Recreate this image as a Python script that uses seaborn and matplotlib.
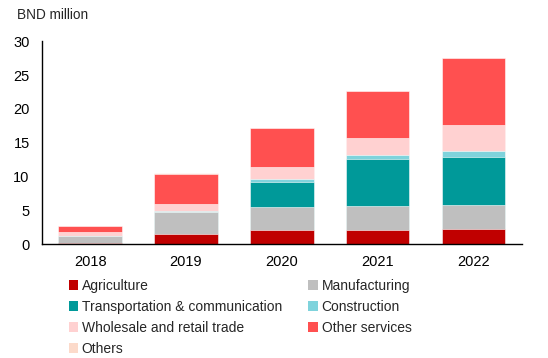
import numpy as np
import pandas as pd
import matplotlib
matplotlib.use("Agg")
import matplotlib.pyplot as plt
import seaborn as sns
from matplotlib.patches import Patch

# ===============================
# Data (BND million)
# ===============================
years = ["2018", "2019", "2020", "2021", "2022"]
agriculture = [0.10, 1.45, 2.05, 2.15, 2.30]
manufacturing = [1.12, 3.25, 3.45, 3.45, 3.55]
transport = [0.00, 0.05, 3.75, 6.95, 7.10]
construction = [0.02, 0.22, 0.45, 0.70, 0.88]
wholesale = [0.50, 1.03, 1.75, 2.50, 3.73]
other_services = [0.91, 4.43, 5.75, 6.94, 9.89]
others = [0.00, 0.02, 0.00, 0.00, 0.00]

sectors = ["Agriculture", "Manufacturing", "Transportation & communication",
           "Construction", "Wholesale and retail trade", "Other services", "Others"]
colors = ["#C00000", "#BFBFBF", "#009999", "#7FD3DC", "#FFD1D1", "#FF5050", "#FCDACA"]

df = pd.DataFrame({
    "Agriculture": agriculture,
    "Manufacturing": manufacturing,
    "Transportation & communication": transport,
    "Construction": construction,
    "Wholesale and retail trade": wholesale,
    "Other services": other_services,
    "Others": others,
}, index=years)
cum = df[sectors].cumsum(axis=1)

# ===============================
# Plot
# ===============================
sns.set_style("white")
plt.rcParams["font.family"] = ["Liberation Sans", "DejaVu Sans"]

fig = plt.figure(figsize=(5.48, 3.58), dpi=100)
ax = fig.add_axes([0.077, 0.318, 0.875, 0.567])

# stacked bars: draw cumulative totals from top layer down
for name, col in zip(sectors[::-1], colors[::-1]):
    sns.barplot(x=years, y=cum[name].values, color=col, width=0.66,
                edgecolor="white", linewidth=0.4, saturation=1, ax=ax)

ax.set_ylim(0, 30)
ax.set_xlim(-0.5, 4.5)
ax.set_yticks(range(0, 31, 5))
ax.tick_params(axis="both", labelsize=10.5, length=0, colors="black")
ax.tick_params(axis="y", pad=9)
ax.tick_params(axis="x", pad=8)
ax.set_xlabel("")
ax.set_ylabel("")
sns.despine(ax=ax)
for s in ["left", "bottom"]:
    ax.spines[s].set_color("black")
    ax.spines[s].set_linewidth(1.0)

fig.text(0.031, 0.957, "BND million", fontsize=9.8, va="center", ha="left")

# legend: 2 columns, row-wise order as in the reference
handles = {n: Patch(facecolor=c, edgecolor="none") for n, c in zip(sectors, colors)}
order = ["Agriculture", "Transportation & communication", "Wholesale and retail trade", "Others",
         "Manufacturing", "Construction", "Other services"]
fig.legend([handles[n] for n in order], order, loc="upper left",
           bbox_to_anchor=(0.125, 0.222), ncol=2, frameon=False, fontsize=10,
           handlelength=0.7, handleheight=0.7, handletextpad=0.25,
           columnspacing=1.9, labelspacing=0.52, borderaxespad=0, borderpad=0)

fig.savefig("out.png", dpi=100)
